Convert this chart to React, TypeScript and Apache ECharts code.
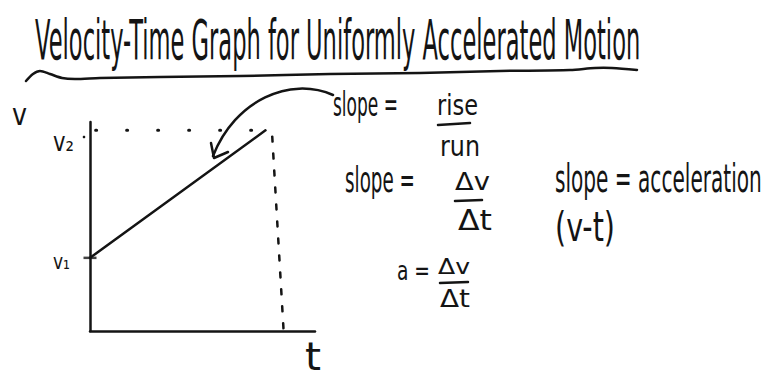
import React, { useEffect, useRef } from "react";
import * as echarts from "echarts";

// Uniformly accelerated motion: velocity rises linearly from v1 to v2
const timeValues = [0, 7.8];
const velocityValues = [3.5, 9.6];
// guide from v2 across to the axis, and the drop line from the end time down to t
const v2GuideTimes = [0.25, 8.1];
const dropLineTimes = [8.1, 8.6];
const dropLineVelocities = [9.3, 0.1];

const axisMax = 10;
const INK = "#141414";
const FONT = '"DejaVu Sans", sans-serif';

type Note = { text: string; x: number; y: number; w: number; size: number; sy?: number };

const notes: Note[] = [
  { text: "Velocity-Time Graph for Uniformly Accelerated Motion", x: 35, y: 40, w: 605, size: 44, sy: 1.25 },
  { text: "v", x: 12, y: 115, w: 15, size: 30 },
  { text: "v₂", x: 53, y: 142, w: 21, size: 26 },
  { text: "v₁", x: 53, y: 262, w: 17, size: 22 },
  { text: "t", x: 305, y: 356, w: 16, size: 36, sy: 1.1 },
  { text: "slope =", x: 333, y: 105, w: 65, size: 30, sy: 1.1 },
  { text: "rise", x: 437, y: 105, w: 41, size: 28 },
  { text: "run", x: 440, y: 146, w: 40, size: 28 },
  { text: "slope =", x: 345, y: 180, w: 70, size: 32, sy: 1.1 },
  { text: "Δv", x: 455, y: 182, w: 35, size: 24 },
  { text: "Δt", x: 458, y: 220, w: 34, size: 28 },
  { text: "slope = acceleration", x: 555, y: 178, w: 207, size: 34, sy: 1.15 },
  { text: "(v-t)", x: 555, y: 227, w: 60, size: 40 },
  { text: "a =", x: 397, y: 271, w: 33, size: 26 },
  { text: "Δv", x: 438, y: 267, w: 32, size: 22 },
  { text: "Δt", x: 440, y: 299, w: 30, size: 24 },
];

const fractionBars = [
  [438, 125, 470, 123],
  [455, 201, 482, 200],
  [440, 283, 468, 282],
];

function textWidth(text: string, size: number): number {
  const ctx = document.createElement("canvas").getContext("2d");
  if (!ctx) return text.length * size * 0.6;
  ctx.font = `${size}px ${FONT}`;
  return ctx.measureText(text).width;
}

export default function App() {
  const ref = useRef<HTMLDivElement>(null);

  useEffect(() => {
    if (!ref.current) return;
    const chart = echarts.init(ref.current, undefined, { renderer: "svg" });

    const textGraphics = notes.map((n) => ({
      type: "text",
      x: n.x,
      y: n.y,
      scaleX: n.w / textWidth(n.text, n.size),
      scaleY: n.sy ?? 1,
      style: {
        text: n.text,
        fontSize: n.size,
        fontFamily: FONT,
        fill: INK,
        textAlign: "left",
        textVerticalAlign: "middle",
        align: "left",
        verticalAlign: "middle",
      },
    }));

    const barGraphics = fractionBars.map(([x1, y1, x2, y2]) => ({
      type: "line",
      shape: { x1, y1, x2, y2 },
      style: { stroke: INK, lineWidth: 2.5, lineCap: "round" },
    }));

    chart.setOption({
      animation: false,
      backgroundColor: "#ffffff",
      grid: { left: 90, right: 451, top: 122, bottom: 50 },
      xAxis: {
        type: "value",
        min: 0,
        max: axisMax,
        axisLine: { show: true, lineStyle: { color: INK, width: 2.5, cap: "round" } },
        axisTick: { show: false },
        axisLabel: { show: false },
        splitLine: { show: false },
      },
      yAxis: {
        type: "value",
        min: 0,
        max: axisMax,
        axisLine: { show: true, lineStyle: { color: INK, width: 2.5, cap: "round" } },
        axisTick: { show: false },
        axisLabel: { show: false },
        splitLine: { show: false },
      },
      series: [
        {
          type: "line",
          name: "velocity",
          data: timeValues.map((t, i) => [t, velocityValues[i]]),
          symbol: "none",
          lineStyle: { color: INK, width: 2.5, cap: "round" },
        },
        {
          type: "line",
          name: "v2 guide",
          data: v2GuideTimes.map((t) => [t, velocityValues[1]]),
          symbol: "none",
          lineStyle: { color: INK, width: 3, type: [1, 30], cap: "round" },
        },
        {
          type: "line",
          name: "end time",
          data: dropLineTimes.map((t, i) => [t, dropLineVelocities[i]]),
          symbol: "none",
          lineStyle: { color: INK, width: 2.5, type: [5, 12], cap: "round" },
        },
        {
          type: "scatter",
          name: "v1 tick",
          data: [[timeValues[0], velocityValues[0]]],
          symbol: "rect",
          symbolSize: [13, 2.5],
          itemStyle: { color: INK },
        },
      ],
      graphic: [
        ...textGraphics,
        ...barGraphics,
        {
          type: "circle",
          shape: { cx: 84, cy: 137, r: 1.3 },
          style: { fill: INK },
        },
        {
          type: "polyline",
          shape: {
            points: [
              [26, 81], [33, 74], [40, 71], [50, 74], [62, 78], [75, 79],
              [100, 78], [160, 77], [240, 76], [330, 74], [420, 73],
              [500, 71], [570, 70], [595, 68], [612, 68], [637, 70],
            ],
            smooth: 0.3,
          },
          style: { stroke: INK, lineWidth: 2.5, fill: "none", lineCap: "round" },
        },
        {
          type: "bezierCurve",
          shape: { x1: 333, y1: 95, cpx1: 290, cpy1: 76, cpx2: 235, cpy2: 100, x2: 213, y2: 156 },
          style: { stroke: INK, lineWidth: 2.5, fill: "none", lineCap: "round" },
        },
        {
          type: "polyline",
          shape: { points: [[211, 143], [214, 158], [228, 152]] },
          style: { stroke: INK, lineWidth: 2.5, fill: "none", lineCap: "round", lineJoin: "round" },
        },
      ],
    });

    return () => chart.dispose();
  }, []);

  return (
    <div
      ref={ref}
      style={{ position: "fixed", left: 0, top: 0, width: 766, height: 381, background: "#fff" }}
    />
  );
}
